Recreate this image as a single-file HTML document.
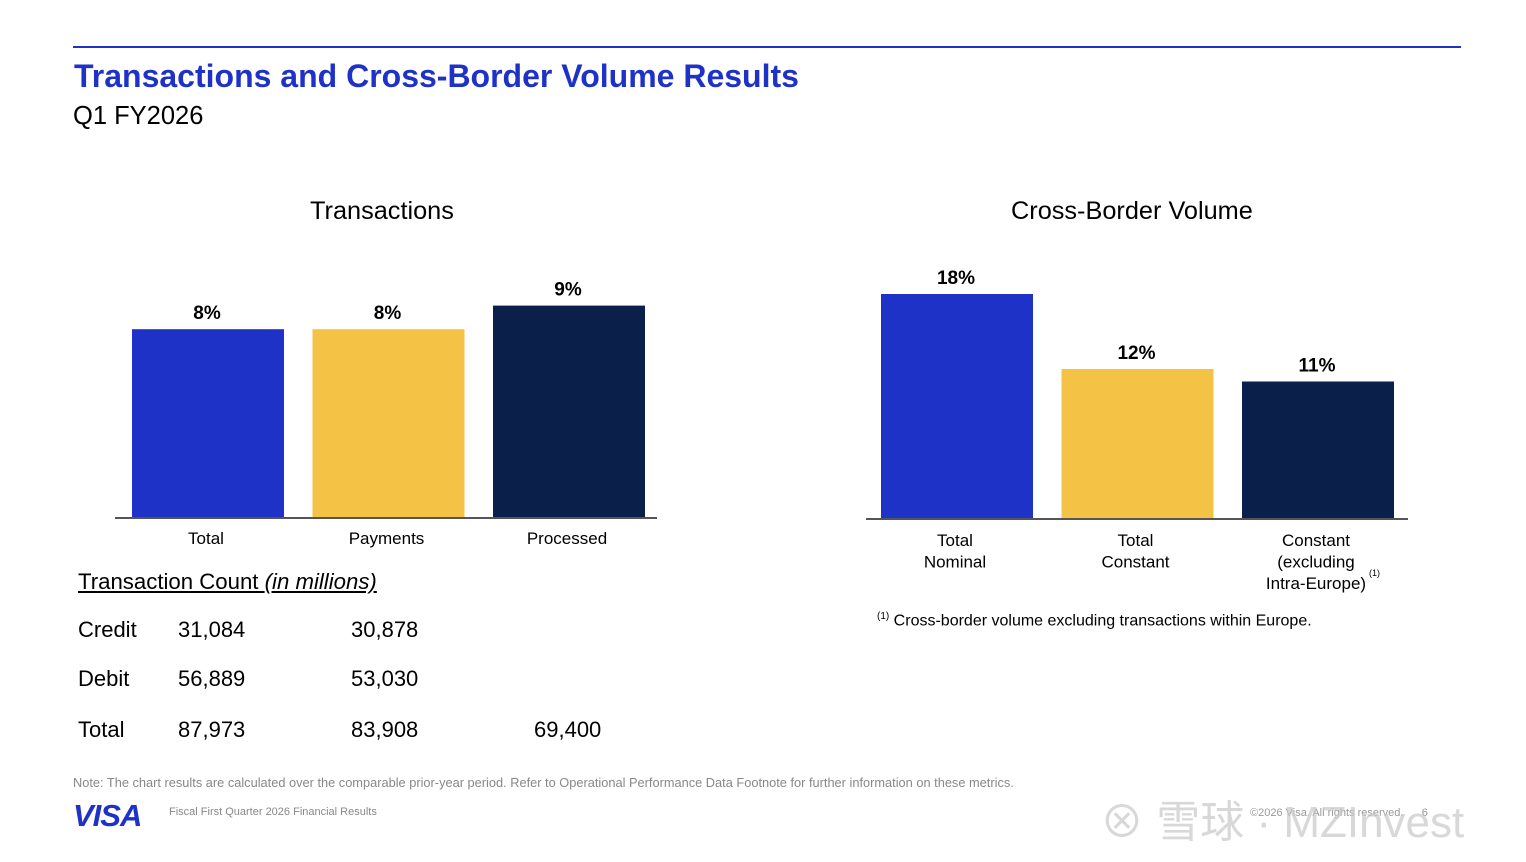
<!DOCTYPE html>
<html><head><meta charset="utf-8"><style>
body{margin:0;width:1526px;height:862px;background:#fff;font-family:"Liberation Sans","Noto Sans CJK SC",sans-serif;position:relative;overflow:hidden}
.a{position:absolute;white-space:nowrap}
.tb{font-size:22px}
</style></head><body>
<div class="a" style="left:73px;top:46px;width:1388px;height:2px;background:#1e32c8"></div>
<div class="a" style="left:74px;top:58px;font-size:32px;font-weight:bold;color:#1e32c8">Transactions and Cross-Border Volume Results</div>
<div class="a" style="left:73px;top:102px;font-size:25.5px">Q1 FY2026</div>
<div class="a" style="left:310px;top:197px;font-size:25.3px">Transactions</div>
<div class="a" style="left:1011px;top:197px;font-size:25.3px">Cross-Border Volume</div>
<svg class="a" style="left:0;top:0" width="1526" height="862" id="svg"></svg>
<div class="a" style="left:78px;top:569px;font-size:22.2px;text-decoration:underline">Transaction Count <i>(in millions)</i></div>
<div class="a tb" style="left:78px;top:617px">Credit</div>
<div class="a tb" style="left:178px;top:617px">31,084</div>
<div class="a tb" style="left:351px;top:617px">30,878</div>
<div class="a tb" style="left:78px;top:666px">Debit</div>
<div class="a tb" style="left:178px;top:666px">56,889</div>
<div class="a tb" style="left:351px;top:666px">53,030</div>
<div class="a tb" style="left:78px;top:717px">Total</div>
<div class="a tb" style="left:178px;top:717px">87,973</div>
<div class="a tb" style="left:351px;top:717px">83,908</div>
<div class="a tb" style="left:534px;top:717px">69,400</div>
<div class="a" style="left:877px;top:611px;font-size:16px"><sup style="font-size:10px">(1)</sup> Cross-border volume excluding transactions within Europe.</div>
<div class="a" style="left:73px;top:775px;font-size:12.8px;color:#888">Note: The chart results are calculated over the comparable prior-year period. Refer to Operational Performance Data Footnote for further information on these metrics.</div>
<div class="a" style="left:73px;top:798px;font-size:31px;font-weight:bold;font-style:italic;color:#1e32c8;letter-spacing:-1px">VISA</div>
<div class="a" style="left:169px;top:806px;font-size:11px;color:#888">Fiscal First Quarter 2026 Financial Results</div>
<div class="a" style="left:1250px;top:807px;font-size:11px;color:#999">©2026 Visa. All rights reserved. &nbsp;&nbsp;&nbsp;&nbsp;&nbsp;6</div>
<div class="a" style="left:1100px;top:786px;font-size:44px;color:rgba(200,200,200,0.7)">⊗ 雪球 · MZInvest</div>
<script>
const leftCats=["Total","Payments","Processed"];
const leftVals=[8,8,9];
const rightCats=[["Total","Nominal"],["Total","Constant"],["Constant","(excluding","Intra-Europe)"]];
const rightVals=[18,12,11];
const colors=["#1e32c8","#f4c245","#0b1f4b"];
const svg=document.getElementById('svg');
const NS="http://www.w3.org/2000/svg";
function mk(t,a){const e=document.createElementNS(NS,t);for(const k in a)e.setAttribute(k,a[k]);svg.appendChild(e);return e;}
function chart(vals,x0,base,scale,ax0,ax1,tag){
  vals.forEach((v,i)=>{
    const x=x0+i*180.5,h=v*scale;
    const r=mk('rect',{x:x,y:base-h,width:152,height:h,fill:colors[i]});
    
    
    const t=mk('text',{x:x+75,y:base-h-10,'text-anchor':'middle','font-size':19,'font-weight':'bold','font-family':'Liberation Sans'});
    t.textContent=v+'%';
    
    
  });
  const l=mk('line',{x1:ax0,x2:ax1,y1:base,y2:base,stroke:'#555','stroke-width':2});
  
  
}
chart(leftVals,132,518,23.6,115,657,'transactions');
chart(rightVals,881,519,12.5,866,1408,'cross-border');
leftCats.forEach((c,i)=>{
  const t=mk('text',{x:132+i*180.5+74,y:544,'text-anchor':'middle','font-size':17,'font-family':'Liberation Sans'});
  t.textContent=c;
  
  
});
rightCats.forEach((c,i)=>{
  c.forEach((s,j)=>{
    const t=mk('text',{x:881+i*180.5+74,y:546+j*21.5,'text-anchor':'middle','font-size':17,'font-family':'Liberation Sans'});
    t.textContent=s;
    
    
  });
});
const sup=mk('text',{x:1369,y:576,'font-size':9,'font-family':'Liberation Sans'});
sup.textContent='(1)';


</script>
</body></html>
